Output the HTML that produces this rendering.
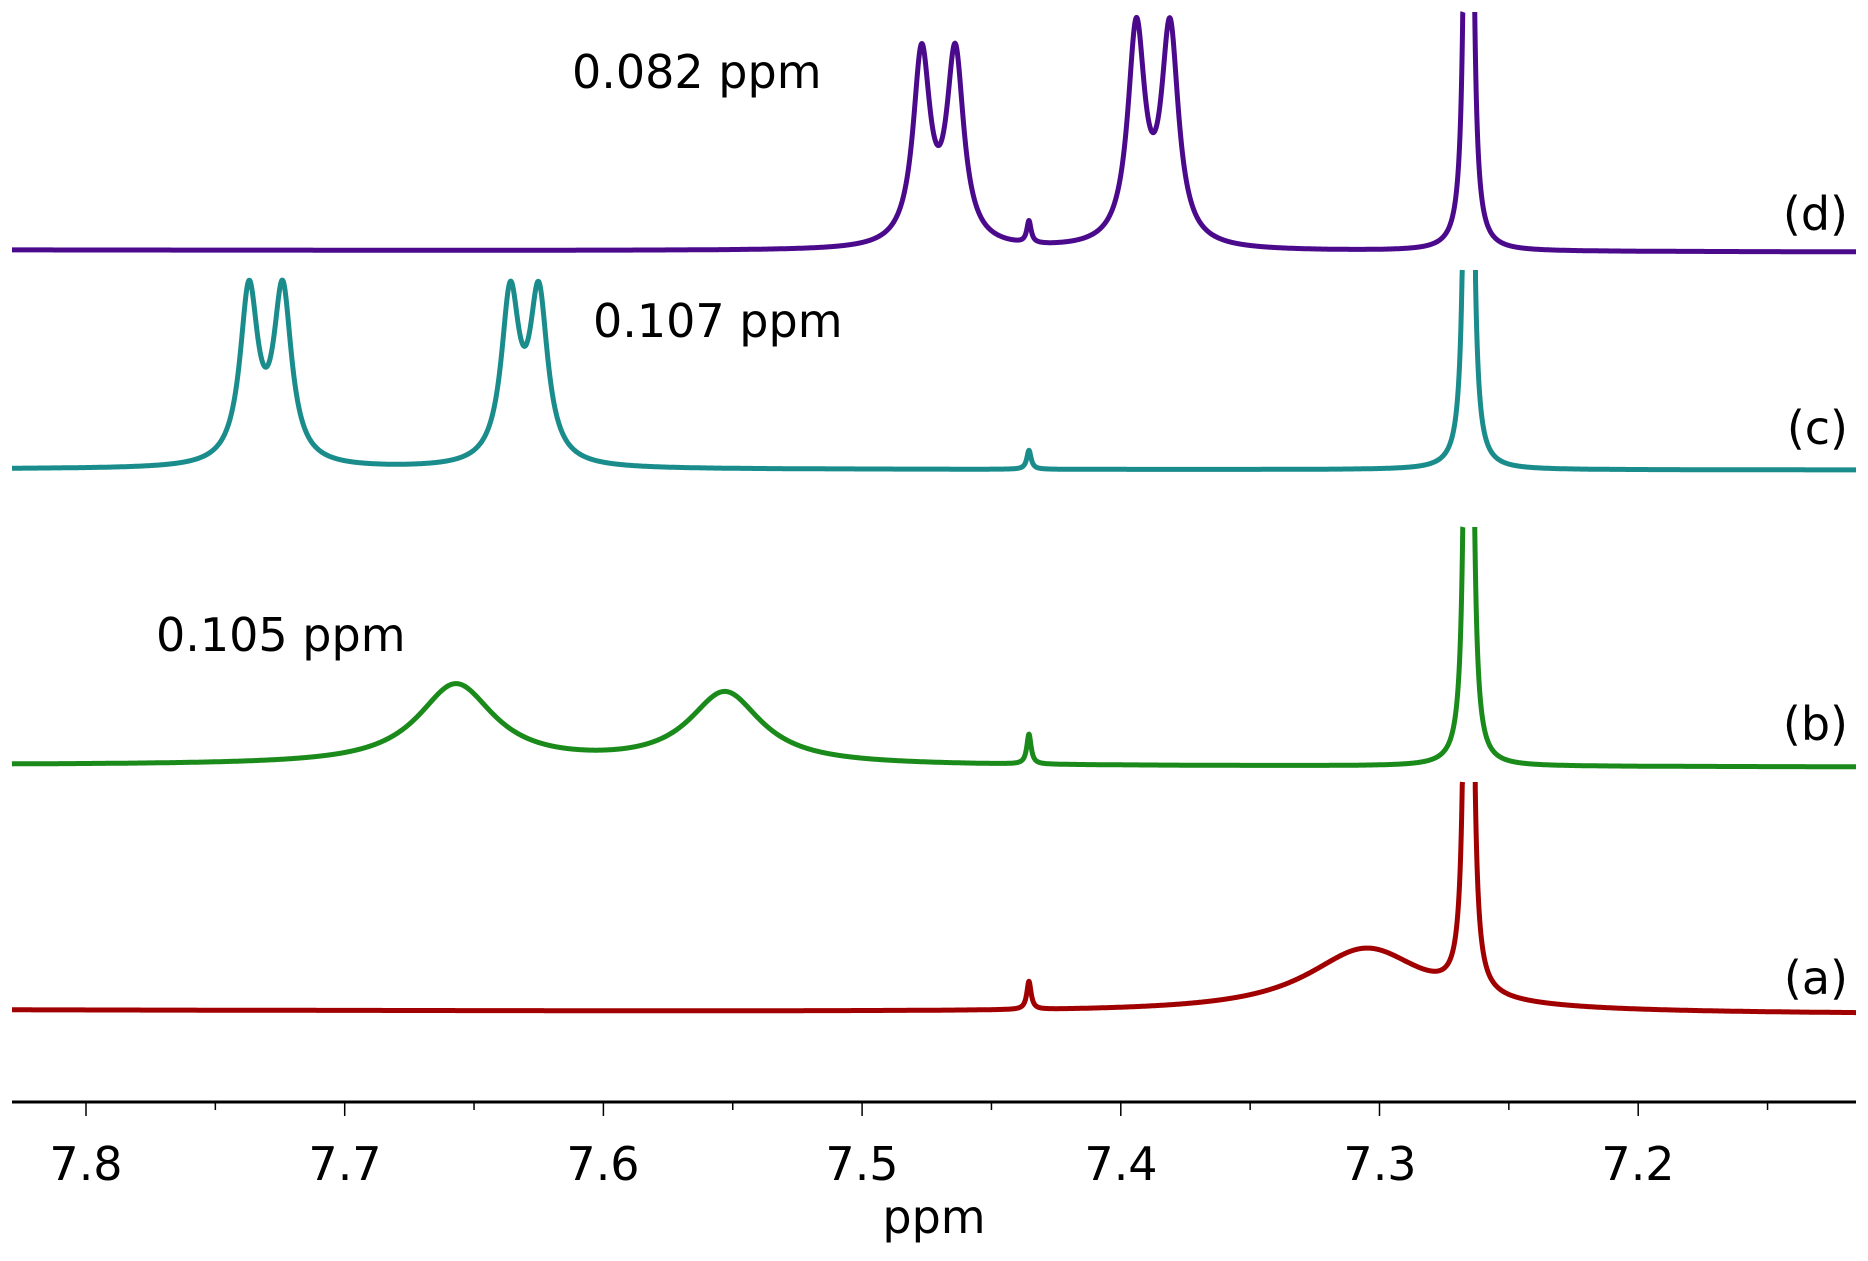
<!DOCTYPE html>
<html><head><meta charset="utf-8"><style>
html,body{margin:0;padding:0;background:#fff;}
svg{display:block;}
text{font-family:"DejaVu Sans","Liberation Sans",sans-serif;fill:#000;}
</style></head><body>
<svg id="s" width="1868" height="1261" viewBox="0 0 1868 1261" xmlns="http://www.w3.org/2000/svg">
<g id="g"></g>
<line x1="12" y1="1102" x2="1856" y2="1102" stroke="#000" stroke-width="3"/>
<g id="ticks" stroke="#000" stroke-width="1.5"></g>
<g font-size="46" text-anchor="middle">
<text x="86" y="1180">7.8</text><text x="345" y="1180">7.7</text><text x="603" y="1180">7.6</text>
<text x="862" y="1180">7.5</text><text x="1121" y="1180">7.4</text><text x="1380" y="1180">7.3</text>
<text x="1638" y="1180">7.2</text><text x="934" y="1233">ppm</text>
</g>
<g font-size="46">
<text x="572" y="88">0.082 ppm</text>
<text x="593" y="337">0.107 ppm</text>
<text x="156" y="651">0.105 ppm</text>
<text x="1848" y="230" text-anchor="end">(d)</text>
<text x="1848" y="444" text-anchor="end">(c)</text>
<text x="1848" y="740" text-anchor="end">(b)</text>
<text x="1848" y="994" text-anchor="end">(a)</text>
</g>
</svg>
<script>
function X(p){return 86+(7.8-p)*2587;}
var ticks=document.getElementById('ticks'),t='';
for(var i=0;i<14;i++){var p=7.8-i*0.05;var x=X(p);t+='<line x1="'+x+'" y1="1102" x2="'+x+'" y2="'+(i%2==0?1116:1110)+'"/>';}
ticks.innerHTML=t;
var S=[7.2655,3800,.0006];
var specs=[
 {c:'#4b0a8c',b0:250,b1:252,clip:12,pk:[[7.477,190,.004],[7.464,190,.004],[7.394,214,.004],[7.381,214,.004],[7.4355,22,.001],S]},
 {c:'#1a8c8c',b0:469,b1:470,clip:270,pk:[[7.737,172,.0042],[7.724,172,.0042],[7.636,166,.0042],[7.625,166,.0042],[7.4355,19,.001],S]},
 {c:'#1a8a1a',b0:765,b1:767,clip:527,pk:[[7.657,80,.018],[7.553,72,.017],[7.4355,30,.001],S]},
 {c:'#a00000',b0:1010,b1:1014,clip:782,pk:[[7.305,64,.028],[7.4355,28,.001],S]}
];
var g='';
specs.forEach(function(s){
 var d='',pen=false;
 for(var x=12;x<=1856;x+=0.25){
  var p=7.8-(x-86)/2587;
  var base=s.b0+(s.b1-s.b0)*(x-12)/1844;
  var y=base;
  s.pk.forEach(function(k){var u=(p-k[0])/k[2];y-=k[1]/(1+u*u);});
  if(y<s.clip){
    if(pen){d+='L'+x.toFixed(2)+' '+s.clip;pen=false;}
    continue;
  }
  if(!pen && d!==''){d+='M'+x.toFixed(2)+' '+s.clip+'L'+x.toFixed(2)+' '+y.toFixed(1);pen=true;continue;}
  d+=(pen?'L':'M')+x.toFixed(2)+' '+y.toFixed(1);pen=true;
 }
 g+='<path d="'+d+'" fill="none" stroke="'+s.c+'" stroke-width="5" stroke-linejoin="round"/>';
});
document.getElementById('g').innerHTML=g;
</script>
</body></html>
